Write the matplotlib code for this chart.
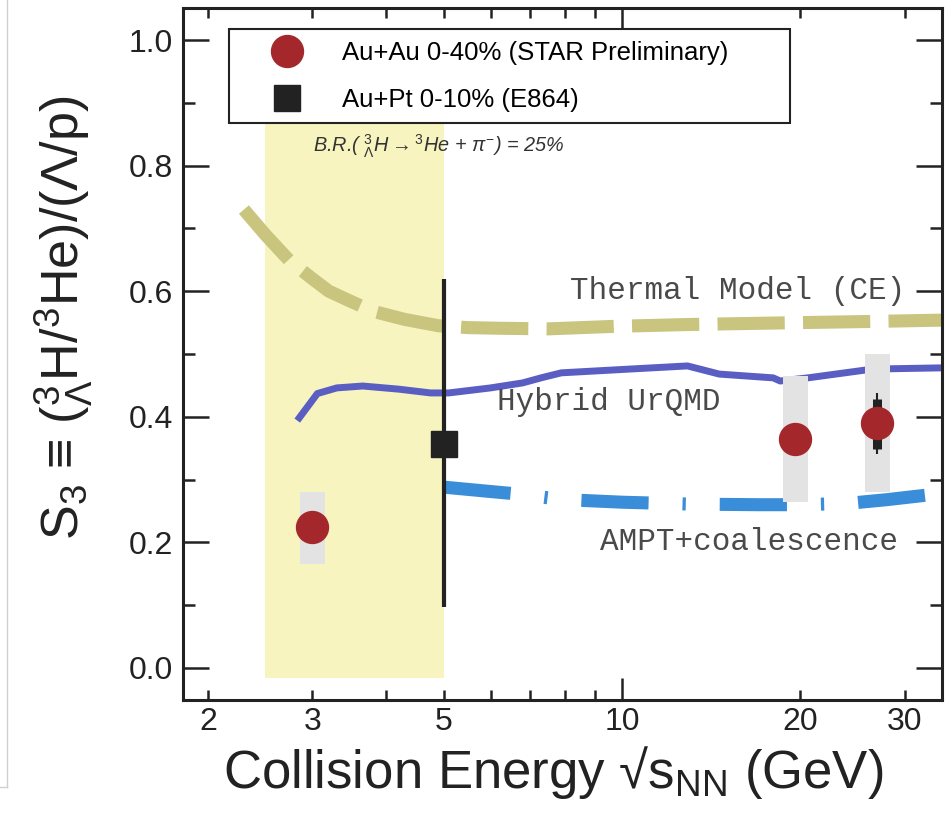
import numpy as np
import matplotlib.pyplot as plt
from matplotlib.lines import Line2D

plt.rcParams['font.family'] = ['Liberation Sans', 'DejaVu Sans']
plt.rcParams['mathtext.fontset'] = 'custom'
plt.rcParams['mathtext.rm'] = 'Liberation Sans'
plt.rcParams['mathtext.it'] = 'Liberation Sans:italic'
plt.rcParams['mathtext.bf'] = 'Liberation Sans:bold'

# STAR Au+Au 0-40% (preliminary)
star_x = [3.0, 19.6, 27.0]
star_y = [0.225, 0.365, 0.39]
star_sys_lo = [0.165, 0.265, 0.28]
star_sys_hi = [0.28, 0.465, 0.50]
# statistical bar, only visible at 27 GeV
stat_x = 27.0
stat_lo, stat_hi = 0.349, 0.429
whisk_lo, whisk_hi = 0.341, 0.438

# E864 Au+Pt 0-10%
e864_x = [5.0]
e864_y = [0.357]
e864_lo = [0.097]
e864_hi = [0.62]

# models
thermal_x = [2.3, 2.5, 2.75, 3.0, 3.2, 3.5, 3.8, 4.3, 4.9, 5.5, 6.2, 7.5, 9.7, 13, 20, 27, 35]
thermal_y = [0.73, 0.69, 0.648, 0.62, 0.60, 0.583, 0.568, 0.555, 0.545, 0.542, 0.541, 0.540, 0.544, 0.547, 0.550, 0.552, 0.554]

hybrid_x = [2.83, 3.06, 3.3, 3.65, 4.2, 4.75, 5.1, 6.0, 6.8, 7.3, 7.9, 10.3, 12.9, 14.6, 18.0, 18.5, 20.6, 26.5, 35]
hybrid_y = [0.394, 0.437, 0.446, 0.449, 0.444, 0.438, 0.438, 0.446, 0.454, 0.462, 0.47, 0.476, 0.481, 0.468, 0.462, 0.457, 0.462, 0.476, 0.478]

ampt_x = [5.0, 6.0, 6.5, 7.5, 8.5, 10, 13, 17, 20, 24, 28, 32.5]
ampt_y = [0.288, 0.281, 0.278, 0.271, 0.267, 0.264, 0.261, 0.260, 0.260, 0.262, 0.268, 0.275]

# branching-ratio band
band_x = [2.5, 5.0]
band_lo, band_hi = -0.016, 0.88

xticks_minor = [2, 3, 4, 5, 6, 7, 8, 9, 20, 30]
xlabels_minor = ['2', '3', '', '5', '', '', '', '', '20', '30']
yticks = [0.0, 0.2, 0.4, 0.6, 0.8, 1.0]

fig = plt.figure(figsize=(9.48, 8.13), dpi=100)
ax = fig.add_axes([183/948, 1-700/813, 759/948, 692/813])
ax.set_xscale('log')

ax.fill_between(band_x, band_lo, band_hi, color='#f7f4c0', lw=0, zorder=0)

# model curves
ax.plot(thermal_x, thermal_y, color='#c9c57f', lw=9.4, dash_capstyle='butt',
        dashes=(5.15, 1.4), zorder=2)
ax.plot(hybrid_x, hybrid_y, color='#5a5ec2', lw=5, solid_capstyle='butt', zorder=2)
ax.plot(ampt_x, ampt_y, color='#3a8dd8', lw=9.4, dash_capstyle='butt',
        dashes=(5.15, 2.6, 0.25, 2.6), zorder=2)

# systematic boxes
f = 10 ** 0.021
for x, lo, hi in zip(star_x, star_sys_lo, star_sys_hi):
    ax.fill_between([x / f, x * f], lo, hi, color='#e3e3e3', lw=0, zorder=3)

# E864 point
ax.vlines(e864_x, e864_lo, e864_hi, color='#222222', lw=3, zorder=4)
ax.plot(e864_x, e864_y, 's', color='#222222', ms=18.5, zorder=5)

# stat bar at 27 GeV
ax.vlines(stat_x, whisk_lo, whisk_hi, color='#222222', lw=1.5, zorder=4)
ax.vlines(stat_x, stat_lo, stat_hi, color='#222222', lw=6.5, zorder=4)

ax.plot(star_x, star_y, 'o', color='#a4282b', ms=23, mec='#a4282b', zorder=6)

# labels on the curves
mono = dict(family='Liberation Mono', fontsize=22.3, color='#4a4a4a', va='center')
fig.text(570/948, 1-291/813, 'Thermal Model (CE)', **mono)
fig.text(497/948, 1-402/813, 'Hybrid UrQMD', **mono)
fig.text(600/948, 1-542/813, 'AMPT+coalescence', **mono)

fig.text(313/948, 1-146/813,
         r'B.R.( $^{3}_{\Lambda}$H$\rightarrow$$^{3}$He + $\pi^{-}$) = 25%',
         fontsize=14.3, style='italic', color='#333333', va='center')

# legend
h1 = Line2D([], [], ls='none', marker='o', ms=23, color='#a4282b')
h2 = Line2D([], [], ls='none', marker='s', ms=18.5, color='#222222')
leg = ax.legend([h1, h2], ['Au+Au 0-40% (STAR Preliminary)', 'Au+Pt 0-10% (E864)'],
                loc='upper left', bbox_to_anchor=(0.0606, 0.834, 0.739, 0.1357),
                mode='expand', fontsize=18.5, frameon=True, fancybox=False,
                edgecolor='#222222', framealpha=1, borderpad=0.45, labelspacing=0.9,
                handlelength=3.6, handletextpad=0.35, borderaxespad=0)
leg.get_frame().set_linewidth(1.5)
leg.set_zorder(10)

ax.set_xlim(1.815, 34.7)
ax.set_ylim(-0.051, 1.051)

ax.set_xticks([10], ['10'])
ax.set_xticks(xticks_minor, xlabels_minor, minor=True)
ax.set_yticks(yticks, [f'{v:.1f}' for v in yticks])
ax.set_yticks([0.1, 0.3, 0.5, 0.7, 0.9], minor=True)

ax.tick_params(which='both', direction='in', top=True, right=True, width=1.8,
               labelsize=23, color='#222222', labelcolor='#222222')
ax.xaxis.set_tick_params(which='both', pad=5)
ax.yaxis.set_tick_params(which='both', pad=7)
ax.xaxis.set_tick_params(which='major', length=16)
ax.xaxis.set_tick_params(which='minor', length=7.5)
ax.yaxis.set_tick_params(which='major', length=19)
ax.yaxis.set_tick_params(which='minor', length=8.6)
for s in ax.spines.values():
    s.set_linewidth(2.2)
    s.set_color('#222222')

fig.text(79/948, 1-318/813, r'S$_3$ ≡ ($^3_\Lambda$H/$^3$He)/(Λ/p)', fontsize=37.5,
         rotation=90, rotation_mode='anchor', ha='center', va='baseline', color='#222222')
fig.text(553/948, 1-788/813, r'Collision Energy √s$_{\rm NN}$ (GeV)', fontsize=38,
         ha='center', va='baseline', color='#222222')

# screenshot border at the far left
fig.add_artist(Line2D([7/948, 7/948], [1, 1-787/813], color='#d0d0d0', lw=1))
fig.add_artist(Line2D([0, 7/948], [1-787/813, 1-787/813], color='#d0d0d0', lw=1))

fig.savefig('out.png', dpi=100)
